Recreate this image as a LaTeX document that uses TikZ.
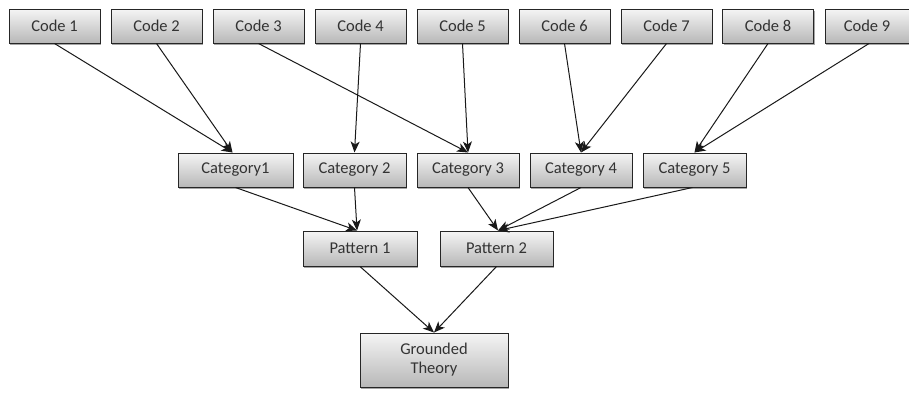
\documentclass[tikz,border=0pt]{standalone}
\usepackage{fontspec}
\setmainfont{Carlito}
\usetikzlibrary{arrows.meta,shadows}
\begin{document}
\begin{tikzpicture}[x=1pt,y=-1pt,
  box/.style={draw=black!85,line width=1pt,top color=black!4,bottom color=black!28,
    font=\fontsize{16.5}{19}\selectfont,text=black!80,inner sep=0pt,
    drop shadow={shadow xshift=1.2pt,shadow yshift=-1.5pt,opacity=0.35,fill=black}},
  codebox/.style={box,minimum width=91pt,minimum height=34pt},
  catbox/.style={box,minimum height=34pt},
  arr/.style={draw=black!90,line width=1pt,-{Stealth[length=11pt,width=9pt,inset=3pt]}}]
\useasboundingbox (0,0) rectangle (909,394);
\node[codebox] (c1) at (54.5,26) {Code 1};
\node[codebox] (c2) at (156.5,26) {Code 2};
\node[codebox] (c3) at (258.5,26) {Code 3};
\node[codebox] (c4) at (360.5,26) {Code 4};
\node[codebox] (c5) at (462.5,26) {Code 5};
\node[codebox] (c6) at (564.5,26) {Code 6};
\node[codebox] (c7) at (666.5,26) {Code 7};
\node[codebox] (c8) at (768,26) {Code 8};
\node[codebox,minimum width=84pt] (c9) at (867,26) {Code 9};
\node[catbox,minimum width=115pt] (k1) at (235.5,170) {Category1};
\node[catbox,minimum width=103pt] (k2) at (354.5,170) {Category 2};
\node[catbox,minimum width=102pt] (k3) at (468,170) {Category 3};
\node[catbox,minimum width=102pt] (k4) at (581,170) {Category 4};
\node[catbox,minimum width=103pt] (k5) at (694.5,170) {Category 5};
\node[catbox,minimum width=114pt,minimum height=35pt] (p1) at (360,248.5) {Pattern 1};
\node[catbox,minimum width=113pt,minimum height=35pt] (p2) at (496.5,248.5) {Pattern 2};
\node[box,minimum width=148pt,minimum height=54pt,align=center] (g) at (434,360) {Grounded\\Theory};
\coordinate (k1t) at ([xshift=-3pt]k1.north);
\coordinate (p1t) at ([xshift=-3pt]p1.north);
\coordinate (p2t) at ([xshift=1.5pt]p2.north);
\draw[arr] (c1.south) -- (k1t);
\draw[arr] (c2.south) -- (k1t);
\draw[arr] (c3.south) -- (k3.north);
\draw[arr] (c4.south) -- (k2.north);
\draw[arr] (c5.south) -- (k3.north);
\draw[arr] (c6.south) -- (k4.north);
\draw[arr] (c7.south) -- (k4.north);
\draw[arr] (c8.south) -- (k5.north);
\draw[arr] ([xshift=2pt]c9.south) -- (k5.north);
\draw[arr] (k1.south) -- (p1t);
\draw[arr] (k2.south) -- (p1t);
\draw[arr] (k3.south) -- (p2t);
\draw[arr] (k4.south) -- (p2t);
\draw[arr] ([xshift=-2pt]k5.south) -- (p2t);
\draw[arr] (p1.south) -- (g.north);
\draw[arr] (p2.south) -- (g.north);
\end{tikzpicture}
\end{document}
